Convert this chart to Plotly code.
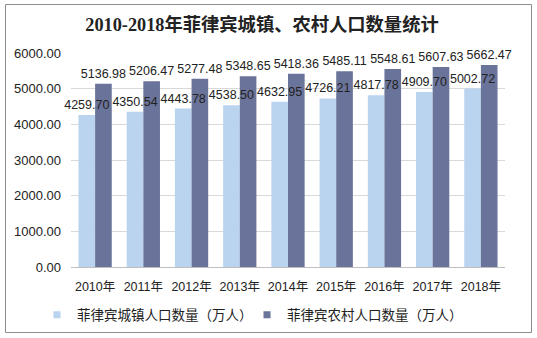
import plotly.graph_objects as go

years = ["2010年", "2011年", "2012年", "2013年", "2014年", "2015年", "2016年", "2017年", "2018年"]
urban = [4259.70, 4350.54, 4443.78, 4538.50, 4632.95, 4726.21, 4817.78, 4909.70, 5002.72]
rural = [5136.98, 5206.47, 5277.48, 5348.65, 5418.36, 5485.11, 5548.61, 5607.63, 5662.47]
series_names = ["菲律宾城镇人口数量（万人）", "菲律宾农村人口数量（万人）"]
tick_vals = [0, 1000, 2000, 3000, 4000, 5000, 6000]
tick_text = ["0.00", "1000.00", "2000.00", "3000.00", "4000.00", "5000.00", "6000.00"]
title_text = "2010-2018年菲律宾城镇、农村人口数量统计"

colors = ["#BAD3EF", "#6A7399"]

W, H = 537, 338
L, R, T, B = 71, 505, 53, 267

font_main = "Liberation Sans, Arial, Noto Sans CJK SC, sans-serif"

fig = go.Figure()
series = [urban, rural]
groups = ["u", "r"]
# solid bars
for vals, col, g in zip(series, colors, groups):
    fig.add_trace(go.Bar(
        x=years, y=vals, offsetgroup=g, showlegend=False, hoverinfo="skip",
        marker=dict(color=col, line=dict(width=0)),
    ))
# value labels on top of all bars
for vals, g in zip(series, groups):
    fig.add_trace(go.Bar(
        x=years, y=vals, offsetgroup=g, showlegend=False,
        marker=dict(color="rgba(0,0,0,0)", line=dict(width=0)),
        texttemplate="%{y:.2f}", textposition="outside", cliponaxis=False, constraintext="none",
        textfont=dict(size=12.5, color="#222222", family=font_main),
    ))
# legend entries
for name, col in zip(series_names, colors):
    fig.add_trace(go.Scatter(
        x=[None], y=[None], mode="markers", name=name,
        marker=dict(symbol="square", size=7, color=col, line=dict(width=0)),
    ))

def px_x(p):
    return (p - L) / (R - L)

def px_y(p):
    return (B - p) / (B - T)

fig.add_shape(type="rect", xref="paper", yref="paper",
              x0=px_x(5.5), x1=px_x(531.5), y0=px_y(332.5), y1=px_y(4.5),
              line=dict(color="#8C8C8C", width=1), fillcolor="rgba(0,0,0,0)", layer="below")

fig.update_layout(
    width=W, height=H,
    margin=dict(l=L, r=W - R, t=T, b=H - B, pad=0, autoexpand=False),
    paper_bgcolor="white", plot_bgcolor="white",
    barmode="group", bargap=0.31, bargroupgap=0.0,
    title=dict(text="<b>" + title_text + "</b>", x=262 / W, xref="container", xanchor="center",
               y=1 - 25 / H, yref="container", yanchor="middle",
               font=dict(family="Liberation Serif, Times New Roman, Noto Sans CJK SC, serif", size=18.3, color="#222222")),
    font=dict(family=font_main, size=12, color="#222222"),
    showlegend=True,
    legend=dict(orientation="h", x=px_x(37), y=px_y(315), xanchor="left", yanchor="middle",
                font=dict(size=13.5, color="#222222", family=font_main),
                entrywidth=165, entrywidthmode="pixels", itemwidth=30, traceorder="normal"),
    xaxis=dict(showline=True, linecolor="#BFBFBF", linewidth=1, ticks="", showgrid=False,
               tickfont=dict(size=12.5, color="#222222"), ticklabelstandoff=8, automargin=False),
    yaxis=dict(range=[0, 6000], tickvals=tick_vals, ticktext=tick_text, showgrid=True,
               gridcolor="#D9D9D9", gridwidth=1, zeroline=False, showline=False, ticks="",
               tickfont=dict(size=13, color="#222222"), ticklabelstandoff=9, automargin=False),
)
fig.write_html("out.html")
